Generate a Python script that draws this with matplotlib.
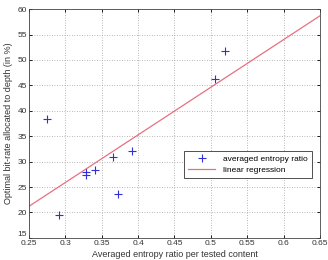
import matplotlib
matplotlib.use("Agg")
import matplotlib.pyplot as plt

# ---- data ----
entropy_ratio = [0.275, 0.291, 0.328, 0.329, 0.341, 0.365, 0.373, 0.392, 0.506, 0.519]
bitrate_depth = [38.4, 19.6, 27.9, 27.4, 28.3, 31.0, 23.6, 32.1, 46.2, 51.7]

reg_x = [0.25, 0.65]
reg_y = [21.2, 58.7]

x_ticks = [0.25, 0.3, 0.35, 0.4, 0.45, 0.5, 0.55, 0.6, 0.65]
x_labels = ["0.25", "0.3", "0.35", "0.4", "0.45", "0.5", "0.55", "0.6", "0.65"]
y_ticks = [15, 20, 25, 30, 35, 40, 45, 50, 55, 60]

plt.rcParams["font.family"] = ["Liberation Sans", "DejaVu Sans"]

fig = plt.figure(figsize=(3.28, 2.60), dpi=100)
ax = fig.add_axes([0.088, 0.085, 0.888, 0.880])

ax.plot(entropy_ratio, bitrate_depth, linestyle="none", marker="+",
        color="#3030d8", markersize=6, markeredgewidth=0.8,
        label="averaged entropy ratio")
ax.plot(reg_x, reg_y, color="#e87080", linewidth=0.9, label="linear regression")

ax.set_xlim(0.25, 0.65)
ax.set_ylim(15, 60)
ax.set_xticks(x_ticks)
ax.set_xticklabels(x_labels)
ax.set_yticks(y_ticks)

ax.grid(True, linestyle=(0, (1, 2)), color="#a0a0a0", linewidth=0.6)
ax.tick_params(direction="in", top=True, right=True, length=2.5, width=0.6,
               labelsize=6, labelcolor="#333333", pad=1.5)
# MATLAB lifts the lowest y label above the corner
ax.get_yticklabels()[0].set_verticalalignment("bottom")
for s in ax.spines.values():
    s.set_linewidth(0.6)
    s.set_color("#444444")

ax.set_xlabel("Averaged entropy ratio per tested content", fontsize=6.5,
              color="#333333", labelpad=2.5)
ax.set_ylabel("Optimal bit-rate allocated to depth (in %)", fontsize=6.5,
              color="#333333", labelpad=3)

leg = ax.legend(loc="upper left", bbox_to_anchor=(0.533, 0.381), borderaxespad=0,
                fontsize=6, fancybox=False, framealpha=1, edgecolor="#333333",
                handlelength=3.2, handletextpad=1.0, borderpad=0.5, labelspacing=0.4)
leg.get_frame().set_linewidth(0.6)

fig.savefig("out.png", dpi=100)
